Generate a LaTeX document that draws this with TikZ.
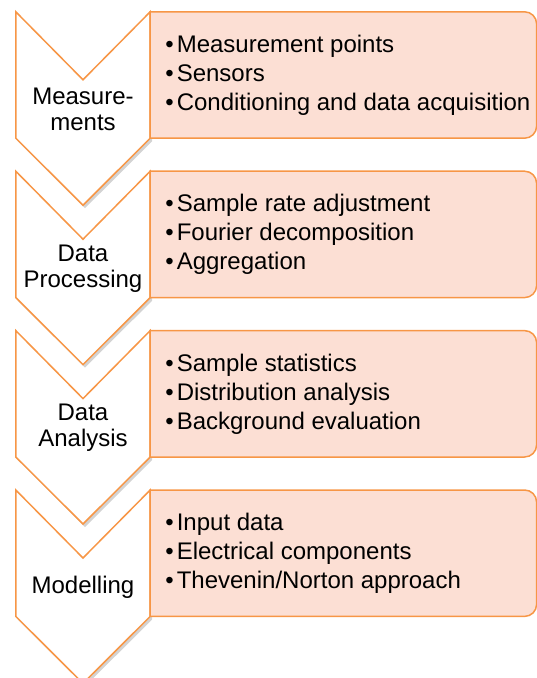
\documentclass[tikz,border=0pt]{standalone}
\usepackage{fontspec}
\setmainfont{Liberation Sans}
\usetikzlibrary{positioning,backgrounds,shadows}
\definecolor{stageline}{RGB}{247,150,70}
\definecolor{stagefill}{RGB}{252,223,212}

\begin{document}
\begin{tikzpicture}[node distance=101pt,
    stage/.style={minimum width=134pt,minimum height=58pt,inner sep=0pt,
      align=center,font=\fontsize{24}{26}\selectfont},
    slot/.style={anchor=south west,minimum width=386pt,minimum height=126pt,
      inner sep=0pt},
    items/.style={inner sep=0pt,align=left,font=\fontsize{24}{29}\selectfont},
    chevron/.style={draw=stageline,line width=1.5pt,fill=white,
      drop shadow={opacity=0.35,shadow xshift=2pt,shadow yshift=-3pt}},
    tab/.style={draw=stageline,line width=1.5pt,fill=stagefill}]
  \useasboundingbox (0,0) rectangle (537pt,-678pt);
  % stage labels down the left
  \node[stage] (m1) at (83pt,-109pt) {Measure-\\ments};
  \node[stage] (m2) [below=of m1] {Data\\Processing};
  \node[stage] (m3) [below=of m2] {Data\\Analysis};
  \node[stage] (m4) [below=of m3] {Modelling};
  % boxes on the right
  \node[slot] (b1) at (m1.south east) {};
  \node[slot] (b2) at (m2.south east) {};
  \node[slot] (b3) at (m3.south east) {};
  \node[slot] (b4) at (m4.south east) {};
  \node[items] (t1) [right=15pt of b1.west]
    {\textbullet\hspace{3pt}Measurement points\\
     \textbullet\hspace{3pt}Sensors\\
     \textbullet\hspace{3pt}Conditioning and data acquisition};
  \node[items] (t2) [right=15pt of b2.west]
    {\textbullet\hspace{3pt}Sample rate adjustment\\
     \textbullet\hspace{3pt}Fourier decomposition\\
     \textbullet\hspace{3pt}Aggregation};
  \node[items] (t3) [right=15pt of b3.west]
    {\textbullet\hspace{3pt}Sample statistics\\
     \textbullet\hspace{3pt}Distribution analysis\\
     \textbullet\hspace{3pt}Background evaluation};
  \node[items] (t4) [right=15pt of b4.west]
    {\textbullet\hspace{3pt}Input data\\
     \textbullet\hspace{3pt}Electrical components\\
     \textbullet\hspace{3pt}Thevenin/Norton approach};
  \begin{scope}[on background layer]
    \draw[chevron] ([yshift=68pt]m1.north west) -- (m1.north) -- ([yshift=68pt]m1.north east)
      -- (m1.south east) -- ([yshift=-67pt]m1.south) -- (m1.south west) -- cycle;
    \draw[chevron] ([yshift=68pt]m2.north west) -- (m2.north) -- ([yshift=68pt]m2.north east)
      -- (m2.south east) -- ([yshift=-67pt]m2.south) -- (m2.south west) -- cycle;
    \draw[chevron] ([yshift=68pt]m3.north west) -- (m3.north) -- ([yshift=68pt]m3.north east)
      -- (m3.south east) -- ([yshift=-67pt]m3.south) -- (m3.south west) -- cycle;
    \draw[chevron] ([yshift=68pt]m4.north west) -- (m4.north) -- ([yshift=68pt]m4.north east)
      -- (m4.south east) -- ([yshift=-67pt]m4.south) -- (m4.south west) -- cycle;
    \draw[tab] (b1.south west) -- (b1.north west) -- ([xshift=-12pt]b1.north east)
      arc[start angle=90,end angle=0,radius=12pt] -- ([yshift=12pt]b1.south east)
      arc[start angle=0,end angle=-90,radius=12pt] -- cycle;
    \draw[tab] (b2.south west) -- (b2.north west) -- ([xshift=-12pt]b2.north east)
      arc[start angle=90,end angle=0,radius=12pt] -- ([yshift=12pt]b2.south east)
      arc[start angle=0,end angle=-90,radius=12pt] -- cycle;
    \draw[tab] (b3.south west) -- (b3.north west) -- ([xshift=-12pt]b3.north east)
      arc[start angle=90,end angle=0,radius=12pt] -- ([yshift=12pt]b3.south east)
      arc[start angle=0,end angle=-90,radius=12pt] -- cycle;
    \draw[tab] (b4.south west) -- (b4.north west) -- ([xshift=-12pt]b4.north east)
      arc[start angle=90,end angle=0,radius=12pt] -- ([yshift=12pt]b4.south east)
      arc[start angle=0,end angle=-90,radius=12pt] -- cycle;
  \end{scope}
\end{tikzpicture}
\end{document}
